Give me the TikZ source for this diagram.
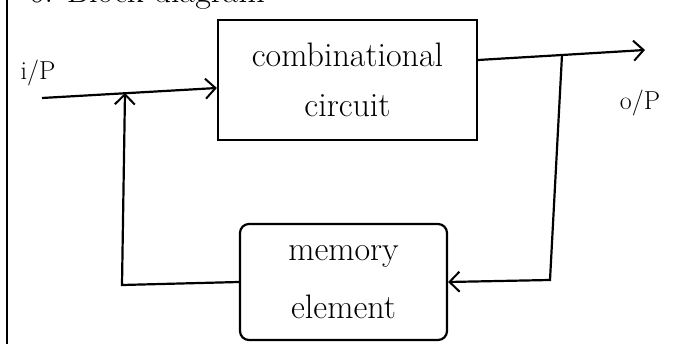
\documentclass[tikz,border=0pt]{standalone}
\usetikzlibrary{arrows.meta}
\begin{document}
\begin{tikzpicture}[x=1pt,y=-1pt,line width=2.2pt,
  hand/.style={font=\fontsize{34}{50}\selectfont},
  lbl/.style={font=\fontsize{26}{28}\selectfont},
  blk/.style={draw,line width=2.2pt,inner sep=0pt,align=center,hand},
  arr/.style={-{Straight Barb[length=10pt,width=20pt,line width=2pt]}}]
\useasboundingbox (0,0) rectangle (685,344);
\coordinate (margtop) at (7,0);
\coordinate (margbot) at (7,344);
\draw[line width=2.6pt] (margtop) -- (margbot);
\node[hand,anchor=base west,inner sep=0pt] (title) at (28,3) {6. Block diagram};
\node[blk,minimum width=259pt,minimum height=120pt] (comb) at (347.5,80) {combinational\\circuit};
\node[blk,rounded corners=9pt,minimum width=207pt,minimum height=116pt,font=\fontsize{34}{58}\selectfont] (mem) at (343.5,282) {memory\\element};
\coordinate (in) at (42,98);
\coordinate (j1) at (125,93);
\coordinate (out) at (645,50);
\coordinate (j2) at (562,55);
\coordinate (fb) at (550,280);
\coordinate (fl) at (122,285);
\node[lbl] (ip) at (38,73) {i/P};
\node[lbl] (op) at (640,103) {o/P};
\draw[arr] (in) -- ([yshift=-8pt]comb.west);
\draw[arr] ([yshift=20pt]comb.east) -- (j2) -- (out);
\draw[arr] (j2) -- (fb) -- (mem.east);
\draw[arr] (mem.west) -- (fl) -- (j1);
\end{tikzpicture}
\end{document}
